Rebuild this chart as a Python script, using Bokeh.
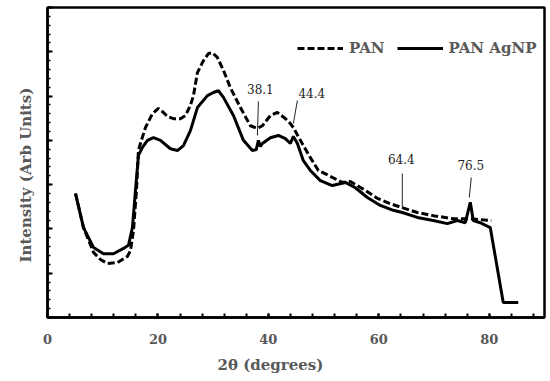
from bokeh.plotting import figure
from bokeh.models import (Range1d, FixedTicker, Legend, LegendItem, Label, Title)
from bokeh.embed import file_html
from bokeh.resources import INLINE

# ---- data ----
agnp_x = [5.07, 6.52, 8.33, 10.14, 11.95, 13.76, 14.66, 15.38, 15.93, 16.47, 17.19, 18.10, 19.19,
          20.45, 22.26, 23.53, 24.62, 25.88, 27.15, 28.96, 30.05, 30.95, 31.86, 33.67, 35.48,
          37.10, 37.80, 38.19, 38.55, 38.91, 40.36, 41.81, 43.08, 43.98, 44.52, 45.25, 46.33,
          47.60, 49.41, 51.58, 53.94, 55.75, 57.92, 60.27, 62.62, 64.25, 66.97, 69.86, 72.40,
          74.21, 75.66, 76.56, 77.10, 78.37, 80.18, 82.53, 85.25]
agnp_y = [2.80, 2.03, 1.58, 1.44, 1.44, 1.56, 1.63, 2.03, 2.87, 3.66, 3.84, 4.00, 4.06,
          4.00, 3.81, 3.77, 3.88, 4.22, 4.74, 5.01, 5.08, 5.12, 4.97, 4.56, 4.00,
          3.77, 3.79, 4.00, 3.86, 3.93, 4.06, 4.11, 4.04, 3.93, 4.09, 3.93, 3.54,
          3.32, 3.09, 2.98, 3.05, 2.93, 2.71, 2.53, 2.42, 2.37, 2.26, 2.19, 2.12,
          2.19, 2.14, 2.60, 2.19, 2.14, 2.03, 0.34, 0.34]

pan_x = [5.07, 6.52, 8.33, 9.59, 10.86, 12.67, 14.48, 15.02, 15.57, 16.11, 16.47, 16.83, 17.74,
         19.00, 20.09, 21.00, 21.72, 22.81, 24.07, 24.98, 25.88, 26.43, 27.15, 28.24, 29.14,
         29.86, 30.77, 31.86, 33.12, 34.93, 36.74, 38.01, 38.91, 40.36, 41.63, 43.08, 43.98,
         44.52, 45.79, 47.60, 49.05, 50.86, 53.39, 54.84, 57.56, 59.73, 62.08, 64.25, 66.97,
         69.86, 73.48, 76.56, 78.37, 80.36]
pan_y = [2.80, 2.03, 1.47, 1.31, 1.22, 1.24, 1.38, 1.51, 1.96, 2.87, 3.77, 3.93, 4.29,
         4.60, 4.72, 4.63, 4.54, 4.49, 4.49, 4.56, 4.79, 5.01, 5.53, 5.80, 5.96,
         5.98, 5.87, 5.58, 5.19, 4.74, 4.33, 4.27, 4.33, 4.56, 4.63, 4.49, 4.38,
         4.29, 4.00, 3.61, 3.32, 3.21, 3.05, 3.07, 2.87, 2.69, 2.57, 2.48, 2.37,
         2.30, 2.23, 2.23, 2.21, 2.19]

peak_labels = ["38.1", "44.4", "64.4", "76.5"]
peak_text_x = [38.55, 47.87, 64.07, 76.65]
peak_text_y = [5.15, 5.08, 3.59, 3.45]
peak_line_x0 = [38.19, 45.25, 64.25, 76.74]
peak_line_y0 = [4.88, 4.90, 3.25, 3.16]
peak_line_x1 = [38.01, 44.52, 64.25, 76.38]
peak_line_y1 = [4.11, 4.38, 2.46, 2.71]

x_major_ticks = [0, 20, 40, 60, 80]
x_minor_ticks = [0, 4, 8, 12, 16, 20, 24, 28, 32, 36, 40, 44, 48, 52, 56, 60, 64, 68, 72, 76, 80, 84, 88]
y_major_ticks = [0, 1, 2, 3, 4, 5, 6, 7]
y_minor_ticks = [round(i * 0.2, 1) for i in range(36)]

x_title = "2θ (degrees)"
y_title = "Intensity (Arb Units)"

GRAY = "#595959"
FONT = "DejaVu Serif"

p = figure(width=550, height=381, output_backend="svg", toolbar_location=None,
           x_range=Range1d(0, 90), y_range=Range1d(0, 7),
           min_border_left=47, min_border_right=6, min_border_top=7, min_border_bottom=64)
p.xgrid.visible = False
p.ygrid.visible = False
p.outline_line_color = "black"
p.outline_line_width = 2.5
p.background_fill_color = "white"
p.border_fill_color = "white"

# axes
xa = p.xaxis[0]
xa.ticker = FixedTicker(ticks=x_major_ticks, minor_ticks=x_minor_ticks)
xa.axis_line_width = 2.5
xa.major_tick_in = 4
xa.major_tick_out = 0
xa.minor_tick_in = 4
xa.minor_tick_out = 0
xa.major_tick_line_width = 2
xa.minor_tick_line_width = 2
xa.major_label_text_font = FONT
xa.major_label_text_font_style = "bold"
xa.major_label_text_font_size = "13px"
xa.major_label_text_color = GRAY
xa.major_label_standoff = 16

ya = p.yaxis[0]
ya.ticker = FixedTicker(ticks=y_major_ticks, minor_ticks=y_minor_ticks)
ya.axis_line_width = 2.5
ya.major_tick_in = 5
ya.major_tick_out = 0
ya.minor_tick_in = 3
ya.minor_tick_out = 0
ya.major_tick_line_width = 2
ya.minor_tick_line_width = 1.5
ya.major_label_overrides = {t: "" for t in y_major_ticks}
ya.major_label_standoff = 0

# axis titles (placed as side titles so they can sit off-centre as in the reference)
p.add_layout(Title(text=x_title, align="left", offset=170, standoff=15, text_font=FONT,
                   text_font_style="bold", text_font_size="15px", text_color=GRAY), "below")
p.add_layout(Title(text=y_title, align="left", offset=55, standoff=26, text_font=FONT,
                   text_font_style="bold", text_font_size="15px", text_color=GRAY), "left")

# curves
r_agnp = p.line(agnp_x, agnp_y, line_color="black", line_width=3)
r_pan = p.line(pan_x, pan_y, line_color="black", line_width=3, line_dash="7 3")

# peak annotations
p.segment(x0=peak_line_x0, y0=peak_line_y0, x1=peak_line_x1, y1=peak_line_y1,
          line_color="#222222", line_width=1)
for t, tx, ty in zip(peak_labels, peak_text_x, peak_text_y):
    p.add_layout(Label(x=tx, y=ty, text=t, text_font=FONT, text_font_size="12px",
                       text_color="#222222", text_align="center", text_baseline="middle"))

legend = Legend(items=[LegendItem(label="PAN", renderers=[r_pan]),
                       LegendItem(label="PAN AgNP", renderers=[r_agnp])],
                orientation="horizontal", location=(250, 259),
                glyph_width=46, glyph_height=20, label_standoff=6, spacing=12,
                padding=0, margin=0, border_line_color=None, background_fill_alpha=0,
                label_text_font=FONT, label_text_font_style="bold", label_text_font_size="15px",
                label_text_color=GRAY)
p.add_layout(legend)

open("out.html", "w").write(file_html(p, INLINE))
